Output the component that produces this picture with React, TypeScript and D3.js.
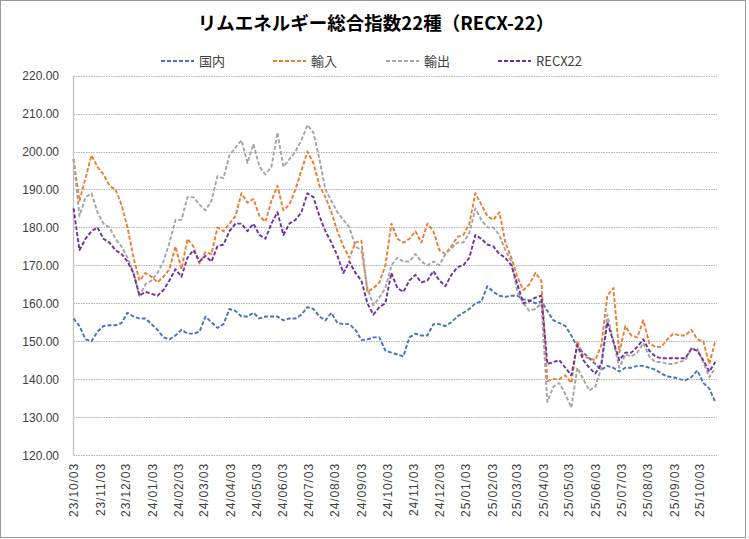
import React, { useEffect, useRef } from 'react';
import * as d3 from 'd3';

// weekly samples (Tuesdays)
const firstDay = '2023-10-03';
const lastDay = '2025-10-21';
const axisEndDay = '2025-10-23';

const tickLabels = [
  '23/10/03', '23/11/03', '23/12/03', '24/01/03', '24/02/03', '24/03/03', '24/04/03',
  '24/05/03', '24/06/03', '24/07/03', '24/08/03', '24/09/03', '24/10/03', '24/11/03',
  '24/12/03', '25/01/03', '25/02/03', '25/03/03', '25/04/03', '25/05/03', '25/06/03',
  '25/07/03', '25/08/03', '25/09/03', '25/10/03'
];
const yTicks = [120, 130, 140, 150, 160, 170, 180, 190, 200, 210, 220];

const domestic = [
  156, 154, 150.5, 150, 152.5, 154, 154.2, 154.2, 154.8, 157.5, 156.5, 156, 156, 154.5, 153, 151, 150.5, 151.5, 153,
  152, 152, 152.5, 156.5, 155, 153.5, 154.5, 158.5, 158, 156.5, 156.5, 157.5, 156, 156.5, 156.5, 156.5, 155.5, 156,
  156, 157, 159, 158.5, 156.5, 155.5, 157.5, 154.8, 154.5, 154.5, 153, 150.3, 150.5, 151, 151, 147.5, 147, 146.5, 146,
  151, 152, 151.5, 151.5, 154.5, 154.5, 154, 155, 156.5, 157.5, 158.5, 160, 160.5, 164.5, 163, 162, 161.7, 162,
  162, 161, 160.8, 160, 160.5, 158, 155.5, 154.8, 154, 151.5, 148.5, 147, 145.5, 144, 142.5, 143.5, 143, 142,
  143, 143, 143.5, 143.5, 143, 142.5, 141.5, 140.7, 140.5, 140, 139.7, 140.5, 142.3, 139, 137.5, 134
];
const imports = [
  198, 187, 193, 199, 196, 194, 191, 190, 186, 180, 172, 166, 168, 167, 165.5, 167, 169, 175, 169,
  177, 175, 170.5, 173.5, 173, 180, 179, 181, 183, 189, 186.5, 187.5, 183, 181.5, 187, 191, 184.5, 186,
  190, 195, 200, 197, 191, 188, 184, 179, 175, 172, 176, 176.5, 163, 164, 165.5, 170, 181, 177, 176,
  177, 179, 176, 181, 179, 174, 173, 175, 177.5, 178, 181, 189, 186, 183, 182, 184, 176, 172,
  167, 163.5, 165, 168, 166, 139.5, 140, 140, 141, 139, 150, 146, 145.5, 145, 149, 162, 164, 147,
  154, 151.5, 151, 155.5, 149.5, 148.5, 148.5, 150.5, 152, 151.5, 151.5, 153, 150.5, 150, 144, 150
];
const exports = [
  198, 183, 188, 189, 184, 181, 180, 177, 175, 172, 168, 162, 165, 166, 168, 171, 176, 182, 182,
  188, 188, 186, 184.5, 187, 193.5, 193, 199, 201, 203, 197, 202, 196, 194, 196, 205, 196, 198,
  200, 203, 207, 205, 198, 190, 187, 184, 182, 180, 175, 174, 164, 159.5, 161.5, 164, 170, 172, 171,
  171, 173, 171, 170, 171, 170, 173, 174.5, 176, 176, 178.5, 185, 182, 180, 180, 178, 174, 171,
  163, 160, 158, 158.5, 160, 134, 138, 139, 136, 132.5, 143, 140, 137, 138, 143, 157, 150, 143,
  146.5, 146, 147, 149.5, 146, 144.5, 144.5, 144, 144, 144.5, 145, 148, 148, 144.5, 140.5, 143
];
const recx22 = [
  185, 174, 177, 179, 180, 177, 176, 174, 173, 171, 168, 162, 163, 162.5, 162, 163.5, 166, 169, 167,
  172, 174, 171, 172.5, 171, 175, 175.5, 179, 181, 181, 179, 181, 178, 177, 181, 184, 178, 181,
  182, 184, 189, 188, 183, 179, 176, 172.5, 168, 171, 168, 166, 160, 157, 159, 160, 168, 164, 163,
  166, 167.5, 165.5, 166, 168.5, 166, 164.5, 167.5, 169.5, 170, 172, 178, 177, 175.5, 175, 173, 172, 170,
  165, 160, 160.5, 161.5, 162, 144, 144.5, 145, 143, 141, 149, 145, 143, 141.5, 144, 155, 150, 145,
  147, 147, 148.5, 150.5, 147.5, 146, 145.5, 145.5, 145.5, 145.5, 145.5, 148, 147.5, 145, 142, 144.5
];

const seriesNames = ['国内', '輸入', '輸出', 'RECX22'];
const seriesColors = ['#4472C4', '#ED7D31', '#A5A5A5', '#7030A0'];

const App = () => {
  const ref = useRef<SVGSVGElement>(null);

  useEffect(() => {
    document.body.style.margin = '0';
    const svg = d3.select(ref.current);
    svg.selectAll('*').remove();

    const width = 749;
    const height = 539;
    const margin = { left: 73.5, right: 717, top: 75.7, bottom: 455 };
    const parseDay = d3.timeParse('%Y-%m-%d');
    const parseTick = d3.timeParse('%y/%m/%d');

    const dates = d3.timeTuesday.range(parseDay(firstDay)!, d3.timeDay.offset(parseDay(lastDay)!, 1));

    const x = d3
      .scaleTime()
      .domain([parseDay(firstDay)!, parseDay(axisEndDay)!])
      .range([margin.left, margin.right]);
    const y = d3.scaleLinear().domain([120, 220]).range([margin.bottom, margin.top]);

    svg
      .append('rect')
      .attr('x', 0.5)
      .attr('y', 0.5)
      .attr('width', width - 4)
      .attr('height', height - 2)
      .attr('fill', '#fff')
      .attr('stroke', '#9a9a9a');

    // title
    svg
      .append('text')
      .attr('x', 376)
      .attr('y', 30)
      .attr('text-anchor', 'middle')
      .attr('font-family', '"Noto Sans CJK JP", sans-serif')
      .attr('font-weight', 'bold')
      .attr('font-size', 18.5)
      .attr('fill', '#000')
      .text('リムエネルギー総合指数22種（RECX-22）');

    // gridlines
    svg
      .append('g')
      .selectAll('line')
      .data(yTicks)
      .join('line')
      .attr('x1', margin.left)
      .attr('x2', margin.right)
      .attr('y1', d => Math.round(y(d)) + 0.5)
      .attr('y2', d => Math.round(y(d)) + 0.5)
      .attr('stroke', '#b4b4b4')
      .attr('stroke-width', 1)
      .attr('stroke-dasharray', '1.5,1');

    svg
      .append('line')
      .attr('x1', margin.left)
      .attr('x2', margin.left)
      .attr('y1', margin.top)
      .attr('y2', margin.bottom)
      .attr('stroke', '#c0c0c0')
      .attr('stroke-width', 1.3);

    // y labels
    svg
      .append('g')
      .selectAll('text')
      .data(yTicks)
      .join('text')
      .attr('x', 59)
      .attr('y', d => y(d) + 4.5)
      .attr('text-anchor', 'end')
      .attr('font-family', '"Liberation Sans", Arial, sans-serif')
      .attr('font-size', 12)
      .attr('fill', '#404040')
      .text(d => d.toFixed(2));

    // x labels
    svg
      .append('g')
      .selectAll('text')
      .data(tickLabels)
      .join('text')
      .attr('transform', d => `translate(${x(parseTick(d)!) + 4.5},463) rotate(-90)`)
      .attr('text-anchor', 'end')
      .attr('font-family', '"Liberation Sans", Arial, sans-serif')
      .attr('font-size', 12)
      .attr('letter-spacing', 0.9)
      .attr('fill', '#404040')
      .text(d => d);

    const allSeries = [domestic, imports, exports, recx22];
    const line = d3
      .line<number>()
      .x((d, i) => x(dates[i]))
      .y(d => y(d));

    const lines = svg.append('g');
    allSeries.forEach((values, i) => {
      lines
        .append('path')
        .datum(values)
        .attr('d', line)
        .attr('fill', 'none')
        .attr('stroke', seriesColors[i])
        .attr('stroke-width', 1.9)
        .attr('stroke-dasharray', '4,2')
        .attr('stroke-linejoin', 'round');
    });

    // legend
    const legendX = [161, 273, 386, 498];
    const legend = svg
      .append('g')
      .selectAll('g')
      .data(seriesNames)
      .join('g')
      .attr('transform', (d, i) => `translate(${legendX[i]},61)`);
    legend
      .append('line')
      .attr('x1', 0)
      .attr('x2', 33)
      .attr('stroke', (d, i) => seriesColors[i])
      .attr('stroke-width', 1.9)
      .attr('stroke-dasharray', '4,2');
    legend
      .append('text')
      .attr('x', 38)
      .attr('y', 5)
      .attr('font-family', '"Noto Sans CJK JP", sans-serif')
      .attr('font-size', 13)
      .attr('fill', '#404040')
      .text(d => d);
  });

  return <svg ref={ref} width={749} height={539} style={{ display: 'block' }} />;
};

export default App;
